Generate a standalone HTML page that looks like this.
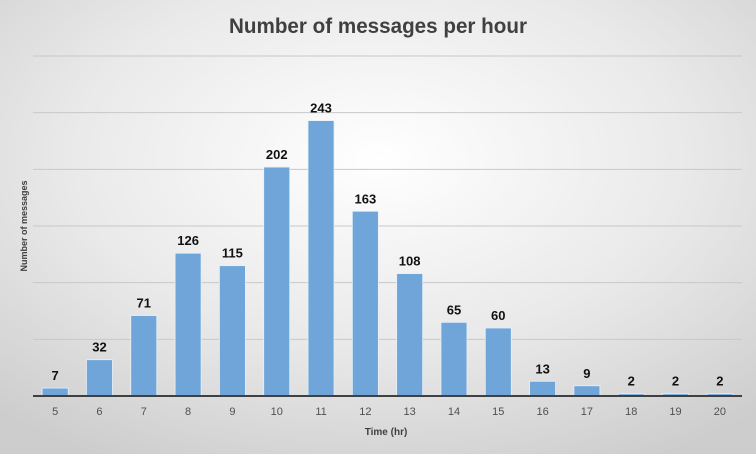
<!DOCTYPE html>
<html><head><meta charset="utf-8"><style>
body{margin:0;width:756px;height:454px;overflow:hidden}
svg{display:block;font-family:"Liberation Sans",sans-serif}
</style></head><body>
<svg width="756" height="454">
<defs><radialGradient id="bg" cx="50%" cy="35%" r="75%">
<stop offset="0" stop-color="#ffffff"/><stop offset="0.55" stop-color="#e9e9e9"/><stop offset="1" stop-color="#cdcdcd"/></radialGradient></defs>
<rect width="756" height="454" fill="url(#bg)"/>
<text x="378" y="33" text-anchor="middle" font-size="21" font-weight="bold" fill="#404040" textLength="298" lengthAdjust="spacingAndGlyphs">Number of messages per hour</text>
<g id="grid"></g><g id="bars"></g><g id="labels"></g><g id="xt"></g>
<line x1="33" x2="742" y1="396" y2="396" stroke="#404040" stroke-width="2"/>
<text x="386" y="435" text-anchor="middle" font-size="10" font-weight="bold" fill="#404040">Time (hr)</text>
<text transform="translate(27,226) rotate(-90)" text-anchor="middle" font-size="9" font-weight="bold" fill="#404040">Number of messages</text>
</svg>
<script>
const categories=[5,6,7,8,9,10,11,12,13,14,15,16,17,18,19,20];
const values=[7,32,71,126,115,202,243,163,108,65,60,13,9,2,2,2];
const gridTicks=[50,100,150,200,250,300];
const NS="http://www.w3.org/2000/svg";
const left=33,right=742,base=396,top0=56,ymax=300;
const step=(right-left)/categories.length;
const y=v=>base-(base-top0)*v/ymax;
const x=i=>left+step*(i+0.5);
function mk(t,a,p){const e=document.createElementNS(NS,t);for(const k in a)e.setAttribute(k,a[k]);document.getElementById(p).appendChild(e);return e;}
gridTicks.forEach(t=>{
 const l=mk('line',{x1:left,x2:right,y1:y(t),y2:y(t),stroke:'#c8c8c8','stroke-width':1},'grid');
 
 
});
values.forEach((v,i)=>{
 const b=mk('rect',{x:x(i)-13,y:y(v),width:26,height:base-y(v),fill:'#6fa5d8',stroke:'#e8f0f8','stroke-width':0.8},'bars');
 
 
 const t=mk('text',{x:x(i),y:y(v)-8,'text-anchor':'middle','font-size':13,'font-weight':'bold',fill:'#111'},'labels');
 t.textContent=v;
 
 
 const c=mk('text',{x:x(i),y:415,'text-anchor':'middle','font-size':11,fill:'#505050'},'xt');
 c.textContent=categories[i];
 
 
});
</script>
</body></html>
